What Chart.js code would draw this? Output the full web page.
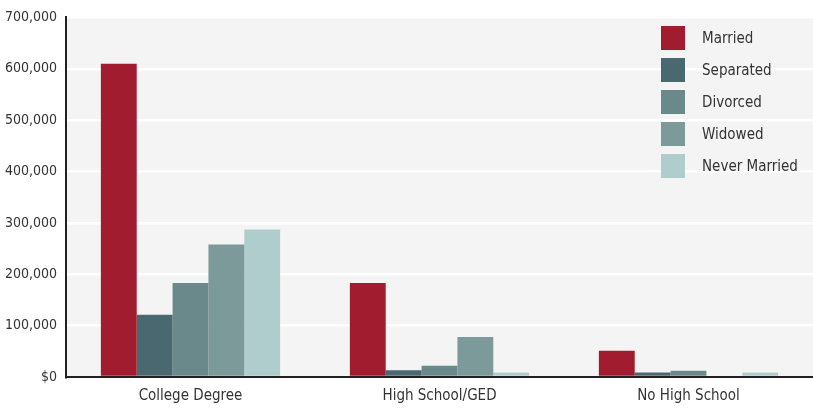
<!DOCTYPE html>
<html>
<head>
<meta charset="utf-8">
<script src="https://cdn.jsdelivr.net/npm/chart.js@4"></script>
<style>
  html, body { margin: 0; padding: 0; background: #fff; }
  #wrap { position: relative; width: 813px; height: 408px; }
  #legend { position: absolute; left: 661px; top: 26px; font-family: "Liberation Sans Narrow", "DejaVu Sans Condensed", sans-serif; font-size: 15px; color: #333; }
  .item { height: 32px; display: flex; align-items: flex-start; }
  .box { width: 24px; height: 24px; margin-right: 17px; }
  .item span { line-height: 24px; }
</style>
</head>
<body>
<div id="wrap">
  <canvas id="chart" width="813" height="408"></canvas>
  <div id="legend"></div>
</div>
<script>
// Data
const categories = ['College Degree', 'High School/GED', 'No High School'];
const seriesNames = ['Married', 'Separated', 'Divorced', 'Widowed', 'Never Married'];
const married = [610000, 183000, 51000];
const separated = [121000, 13000, 9000];
const divorced = [183000, 22000, 12000];
const widowed = [258000, 78000, 0];
const neverMarried = [287000, 9000, 9000];
const colors = ['#a01c2e', '#4a6870', '#6a898a', '#7c9a99', '#b0cdcd'];

const FONT = '"Liberation Sans Narrow", "DejaVu Sans Condensed", sans-serif';

// light gray plot background
const plotBg = {
    id: 'plotBg',
    beforeDraw(chart) {
        const a = chart.chartArea;
        const ctx = chart.ctx;
        ctx.save();
        ctx.fillStyle = '#f4f4f4';
        ctx.fillRect(a.left, a.top, a.right - a.left, a.bottom - a.top);
        ctx.restore();
    }
};

const values = [married, separated, divorced, widowed, neverMarried];

new Chart(document.getElementById('chart'), {
    type: 'bar',
    data: {
        labels: categories,
        datasets: seriesNames.map((name, i) => ({
            label: name,
            data: values[i],
            backgroundColor: colors[i],
            borderWidth: 0,
            barPercentage: 1,
            categoryPercentage: 0.72
        }))
    },
    options: {
        responsive: false,
        animation: false,
        layout: { padding: { top: 5, right: 0, left: 0, bottom: 0 } },
        plugins: {
            legend: { display: false },
            tooltip: { enabled: false }
        },
        scales: {
            x: {
                grid: { display: false, drawTicks: false },
                border: { color: '#231f20', width: 2 },
                ticks: {
                    color: '#333',
                    padding: 10,
                    font: { family: FONT, size: 15 }
                },
                afterFit(scale) { scale.height = 31; }
            },
            y: {
                min: 0,
                max: 700000,
                grid: { color: '#ffffff', lineWidth: 2.5, drawTicks: false },
                border: { color: '#231f20', width: 2 },
                ticks: {
                    stepSize: 100000,
                    color: '#333',
                    padding: 9,
                    font: { family: FONT, size: 14 },
                    callback: v => v === 0 ? '$0' : v.toLocaleString('en-US')
                },
                afterFit(scale) { scale.width = 66; }
            }
        }
    },
    plugins: [plotBg]
});

// legend
const legend = document.getElementById('legend');
seriesNames.forEach((name, i) => {
    const row = document.createElement('div');
    row.className = 'item';
    row.innerHTML = '<div class="box" style="background:' + colors[i] + '"></div><span>' + name + '</span>';
    legend.appendChild(row);
});
</script>
</body>
</html>
